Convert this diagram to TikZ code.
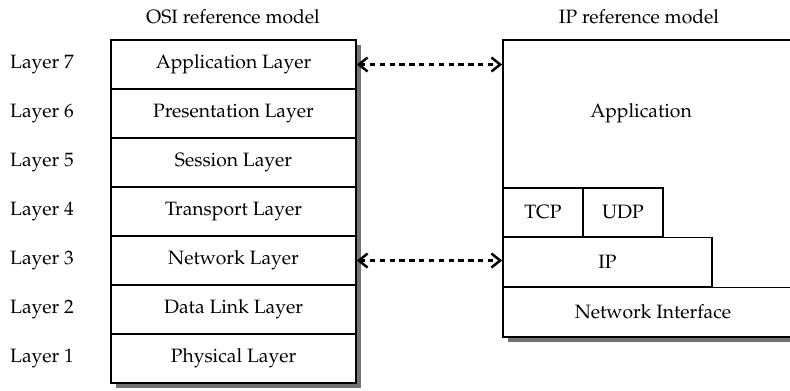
\documentclass[tikz,border=0pt]{standalone}
\usepackage[T1]{fontenc}
\usepackage{mathpazo}
\usetikzlibrary{arrows.meta}

\begin{document}
\begin{tikzpicture}[x=0.02cm,y=-0.02cm]
    \tikzstyle{every node}=[font=\fontsize{11}{13}\selectfont]
    \tikzstyle{osilayer}=[rectangle,draw,fill=white,line width=1pt,minimum width=4.9cm,minimum height=0.98cm,inner sep=0pt]
    \tikzstyle{iplayer}=[rectangle,draw,fill=white,line width=1pt,minimum height=0.98cm,inner sep=0pt]
    \tikzstyle{shade}=[fill=black!55]
    \tikzstyle{peer}=[{Straight Barb[length=5pt,width=8pt]}-{Straight Barb[length=5pt,width=8pt]},line width=1.4pt,dash pattern=on 3pt off 2.6pt]
    \useasboundingbox (0,0) rectangle (790,390);
    \clip (0,0) rectangle (790,390);
    % titles
    \node (osititle) at (233,17) {OSI reference model};
    \node (iptitle) at (639,17) {IP reference model};
    % OSI stack
    \fill[shade] (116,45) rectangle (361,388);
    \foreach \name/\txt/\n [count=\i] in {app/Application Layer/7,pres/Presentation Layer/6,sess/Session Layer/5,trans/Transport Layer/4,net/Network Layer/3,dlink/Data Link Layer/2,phys/Physical Layer/1}
    {
      \node[osilayer] (\name) at (233.5,{40+(\i-0.5)*49}) {\txt};
      \node (lay\n) at (42,{40+(\i-0.5)*49}) {Layer \n};
    }
    % IP stack
    \fill[shade] (508,45) rectangle (810,342);
    \node[iplayer,minimum width=6.1cm,minimum height=5.94cm] (ipbox) at (655.5,188.5) {};
    \node (appl) at (641,113) {Application};
    \node[iplayer,minimum width=1.6cm] (tcp) at (543,212.5) {TCP};
    \node[iplayer,minimum width=1.6cm] (udp) at (623,212.5) {UDP};
    \node[iplayer,minimum width=4.18cm] (ip) at (607.5,262) {IP};
    \node[iplayer,minimum width=6cm] (netif) at (653,312) {Network Interface};
    % peer arrows
    \draw[peer] (app.east) -- (app.east -| ipbox.west);
    \draw[peer] (net.east) -- (net.east -| ip.west);
\end{tikzpicture}
\end{document}
